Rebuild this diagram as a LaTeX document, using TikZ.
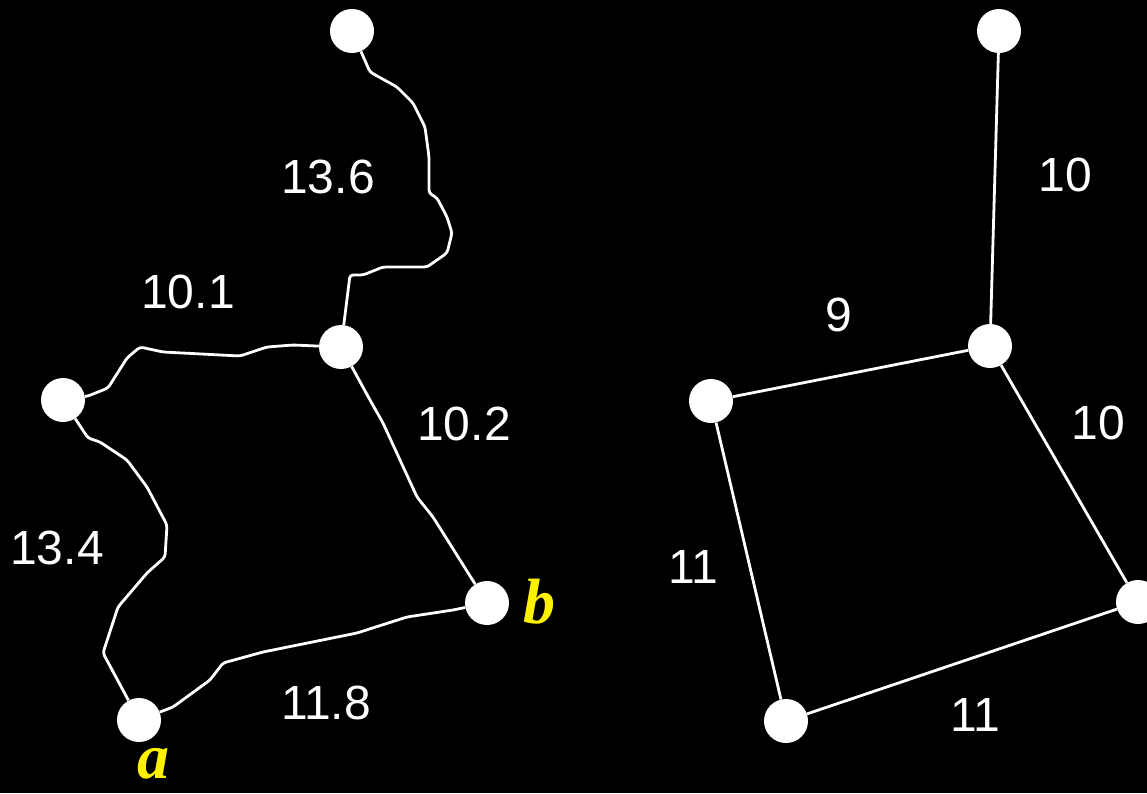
\documentclass[tikz,border=0pt]{standalone}
\usepackage{fontspec}
\setmainfont{Liberation Sans}
\newfontfamily\serifbi{Liberation Serif}
\begin{document}
\begin{tikzpicture}[x=1pt,y=-1pt,
  vtx/.style={circle,fill=white,inner sep=0pt,minimum size=44pt},
  edge/.style={draw=white,line width=2.8pt,line join=round,rounded corners=3pt},
  wlab/.style={text=white,font=\fontsize{48}{50}\selectfont},
  ylab/.style={text=yellow,font=\serifbi\bfseries\itshape\fontsize{64}{66}\selectfont}]
\fill[black] (0,0) rectangle (1147,793);
\useasboundingbox (0,0) rectangle (1147,793);
% left graph
\node[vtx] (lt) at (352,31) {};
\node[vtx] (lm) at (341,347) {};
\node[vtx] (ll) at (63,400) {};
\node[vtx] (lb) at (487,603) {};
\node[vtx] (la) at (139,720) {};
\draw[edge] (lt) -- (370,72) -- (397,87) -- (413,103) -- (425,127) -- (429,157) -- (429,193) -- (437,198) -- (447,217) -- (452,233) -- (447,253) -- (427,267) -- (383,267) -- (363,275) -- (350,275) -- (lm);
\draw[edge] (ll) -- (88,396) -- (108,388) -- (127,358) -- (140,347) -- (163,352) -- (240,356) -- (267,347) -- (293,345) -- (lm);
\draw[edge] (ll) -- (88,438) -- (100,442) -- (127,460) -- (147,487) -- (167,525) -- (165,557) -- (147,573) -- (118,607) -- (103,653) -- (la);
\draw[edge] (la) -- (173,707) -- (210,680) -- (223,663) -- (263,652) -- (357,633) -- (407,617) -- (453,610) -- (lb);
\draw[edge] (lm) -- (370,400) -- (383,423) -- (400,460) -- (417,497) -- (433,517) -- (lb);
\node[wlab] (l1) at (328,177) {13.6};
\node[wlab] (l2) at (188,292) {10.1};
\node[wlab] (l3) at (464,424) {10.2};
\node[wlab] (l4) at (57,548) {13.4};
\node[wlab] (l5) at (326,703) {11.8};
\node[ylab] (nb) at (539,602) {b};
\node[ylab] (na) at (153,764) {a};
% right graph
\node[vtx] (rt) at (999,31) {};
\node[vtx] (rm) at (990,346) {};
\node[vtx] (rl) at (711,401) {};
\node[vtx] (rr) at (1138,602) {};
\node[vtx] (rb) at (786,721) {};
\draw[edge] (rt) -- (rm);
\draw[edge] (rl) -- (rm);
\draw[edge] (rm) -- (rr);
\draw[edge] (rl) -- (rb);
\draw[edge] (rb) -- (rr);
\node[wlab] (r1) at (1065,175) {10};
\node[wlab] (r2) at (839,315) {9};
\node[wlab] (r3) at (1098,423) {10};
\node[wlab] (r4) at (693,567) {11};
\node[wlab] (r5) at (975,715) {11};
\end{tikzpicture}
\end{document}
